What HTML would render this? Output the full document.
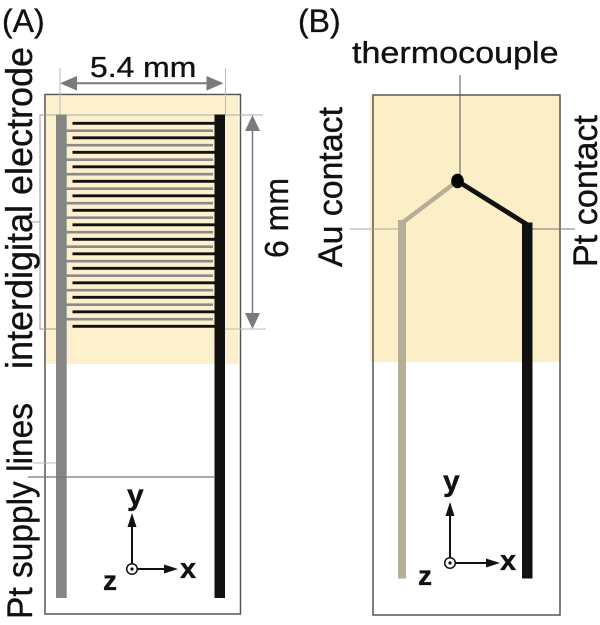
<!DOCTYPE html>
<html>
<head>
<meta charset="utf-8">
<style>
html,body{margin:0;padding:0;background:#fff;}
svg{display:block;}
text{font-family:"Liberation Sans",Arial,sans-serif;fill:#111;stroke:#111;stroke-width:0.35;}
</style>
</head>
<body>
<svg width="600" height="625" viewBox="0 0 600 625" xmlns="http://www.w3.org/2000/svg">
  <!-- ========== Panel A ========== -->
  <text x="2" y="32" font-size="32">(A)</text>

  <rect x="46" y="96" width="192.5" height="268" fill="#fcf0cd"/>
  <rect x="45" y="94.5" width="195.5" height="519.5" fill="none" stroke="#555" stroke-width="1.5"/>

  <!-- dimension 5.4 mm -->
  <line x1="60" y1="68" x2="60" y2="115" stroke="#bbb" stroke-width="1"/>
  <line x1="225.5" y1="68" x2="225.5" y2="115" stroke="#bbb" stroke-width="1"/>
  <line x1="72" y1="83.3" x2="212" y2="83.3" stroke="#7a7a7a" stroke-width="2"/>
  <polygon points="60,83.3 77,76 77,90.6" fill="#7a7a7a"/>
  <polygon points="223.5,83.3 206.5,76 206.5,90.6" fill="#7a7a7a"/>
  <text transform="translate(90,77) scale(1.1,1)" font-size="29">5.4 mm</text>

  <!-- dimension 6 mm -->
  <line x1="40" y1="115" x2="263" y2="115" stroke="#aaa" stroke-width="1"/>
  <line x1="225" y1="329" x2="266" y2="329" stroke="#bbb" stroke-width="1"/>
  <line x1="252.5" y1="128" x2="252.5" y2="316" stroke="#7a7a7a" stroke-width="1.5"/>
  <polygon points="252.5,115 245,131 260,131" fill="#7a7a7a"/>
  <polygon points="252.5,329 245,313 260,313" fill="#7a7a7a"/>
  <text transform="translate(288,258) rotate(-90)" font-size="33" textLength="80" lengthAdjust="spacingAndGlyphs">6 mm</text>

  <!-- bracket -->
  <polyline points="46,115 40,115 40,329 57,329" fill="none" stroke="#999" stroke-width="1"/>
  <line x1="32" y1="222" x2="40" y2="222" stroke="#999" stroke-width="1"/>
  <text transform="translate(32,369) rotate(-90)" font-size="37" textLength="322" lengthAdjust="spacingAndGlyphs">interdigital electrode</text>

  <!-- fingers: gray -->
  <g stroke="#8a8a8a" stroke-width="2.6">
    <line x1="66" y1="130.7" x2="213" y2="130.7"/>
    <line x1="66" y1="145.2" x2="213" y2="145.2"/>
    <line x1="66" y1="159.7" x2="213" y2="159.7"/>
    <line x1="66" y1="174.2" x2="213" y2="174.2"/>
    <line x1="66" y1="188.7" x2="213" y2="188.7"/>
    <line x1="66" y1="203.2" x2="213" y2="203.2"/>
    <line x1="66" y1="217.7" x2="213" y2="217.7"/>
    <line x1="66" y1="232.2" x2="213" y2="232.2"/>
    <line x1="66" y1="246.7" x2="213" y2="246.7"/>
    <line x1="66" y1="261.2" x2="213" y2="261.2"/>
    <line x1="66" y1="275.7" x2="213" y2="275.7"/>
    <line x1="66" y1="290.2" x2="213" y2="290.2"/>
    <line x1="66" y1="304.7" x2="213" y2="304.7"/>
    <line x1="66" y1="319.2" x2="213" y2="319.2"/>
  </g>
  <!-- fingers: black -->
  <g stroke="#111" stroke-width="2.8">
    <line x1="72.5" y1="123.3" x2="215" y2="123.3"/>
    <line x1="72.5" y1="137.8" x2="215" y2="137.8"/>
    <line x1="72.5" y1="152.3" x2="215" y2="152.3"/>
    <line x1="72.5" y1="166.8" x2="215" y2="166.8"/>
    <line x1="72.5" y1="181.3" x2="215" y2="181.3"/>
    <line x1="72.5" y1="195.8" x2="215" y2="195.8"/>
    <line x1="72.5" y1="210.3" x2="215" y2="210.3"/>
    <line x1="72.5" y1="224.8" x2="215" y2="224.8"/>
    <line x1="72.5" y1="239.3" x2="215" y2="239.3"/>
    <line x1="72.5" y1="253.8" x2="215" y2="253.8"/>
    <line x1="72.5" y1="268.3" x2="215" y2="268.3"/>
    <line x1="72.5" y1="282.8" x2="215" y2="282.8"/>
    <line x1="72.5" y1="297.3" x2="215" y2="297.3"/>
    <line x1="72.5" y1="311.8" x2="215" y2="311.8"/>
    <line x1="72.5" y1="326.3" x2="215" y2="326.3"/>
  </g>

  <!-- supply bars -->
  <rect x="56" y="114.5" width="10.7" height="483.5" fill="#858585"/>
  <rect x="214.5" y="114.5" width="10.5" height="483.5" fill="#111"/>

  <!-- Pt supply lines -->
  <line x1="33" y1="463" x2="56" y2="463" stroke="#bbb" stroke-width="1"/>
  <line x1="28" y1="477" x2="214" y2="477" stroke="#777" stroke-width="1.2"/>
  <text transform="translate(32,619) rotate(-90)" font-size="35" textLength="216" lengthAdjust="spacingAndGlyphs">Pt supply lines</text>

  <!-- axes A -->
  <g stroke="#111" stroke-width="2" fill="none">
    <line x1="132" y1="563.5" x2="132" y2="525"/>
    <line x1="137.5" y1="569" x2="167" y2="569"/>
    <circle cx="132" cy="569" r="5.3" stroke-width="1.5" fill="#fff"/>
  </g>
  <circle cx="132" cy="569" r="1.6" fill="#111"/>
  <polygon points="132,513 127.5,527 136.5,527" fill="#111"/>
  <polygon points="178,569 164,564.5 164,573.5" fill="#111"/>
  <text x="127" y="505" font-size="30" font-weight="bold">y</text>
  <text x="180" y="578" font-size="29" font-weight="bold">x</text>
  <text x="103" y="590" font-size="28" font-weight="bold">z</text>

  <!-- ========== Panel B ========== -->
  <text x="298" y="32" font-size="32">(B)</text>

  <rect x="370" y="96" width="189.5" height="266" fill="#fcefc7"/>
  <rect x="373" y="95" width="187" height="520" fill="none" stroke="#555" stroke-width="1.5"/>

  <text transform="translate(352,63) scale(1.1,1)" font-size="31">thermocouple</text>
  <line x1="460" y1="75" x2="460" y2="181" stroke="#555" stroke-width="1"/>

  <line x1="350" y1="229" x2="402" y2="229" stroke="#aaa" stroke-width="1"/>
  <line x1="532" y1="229" x2="575" y2="229" stroke="#777" stroke-width="1"/>

  <!-- Au trace -->
  <polyline points="402,223 457.5,181" fill="none" stroke="#b7ae98" stroke-width="4.5"/>
  <rect x="398" y="220" width="8" height="358.5" fill="#b7ae98"/>
  <!-- Pt trace -->
  <polyline points="457.5,181 527,224.5" fill="none" stroke="#111" stroke-width="4.8"/>
  <rect x="522" y="222.5" width="10.5" height="356" fill="#111"/>
  <ellipse cx="457.5" cy="181" rx="6.3" ry="7.2" fill="#000"/>

  <text transform="translate(342,267) rotate(-90)" font-size="34" textLength="160" lengthAdjust="spacingAndGlyphs">Au contact</text>
  <text transform="translate(597,267) rotate(-90)" font-size="34" textLength="152" lengthAdjust="spacingAndGlyphs">Pt contact</text>

  <!-- axes B -->
  <g stroke="#111" stroke-width="2" fill="none">
    <line x1="450" y1="557.5" x2="450" y2="514"/>
    <line x1="455.5" y1="563" x2="489" y2="563"/>
    <circle cx="450" cy="563" r="5.3" stroke-width="1.5" fill="#fff"/>
  </g>
  <circle cx="450" cy="563" r="1.6" fill="#111"/>
  <polygon points="450,502 445.5,516 454.5,516" fill="#111"/>
  <polygon points="500,563 486,558.5 486,567.5" fill="#111"/>
  <text x="443" y="491" font-size="30" font-weight="bold">y</text>
  <text x="500" y="570" font-size="29" font-weight="bold">x</text>
  <text x="418" y="585" font-size="28" font-weight="bold">z</text>
</svg>
</body>
</html>
